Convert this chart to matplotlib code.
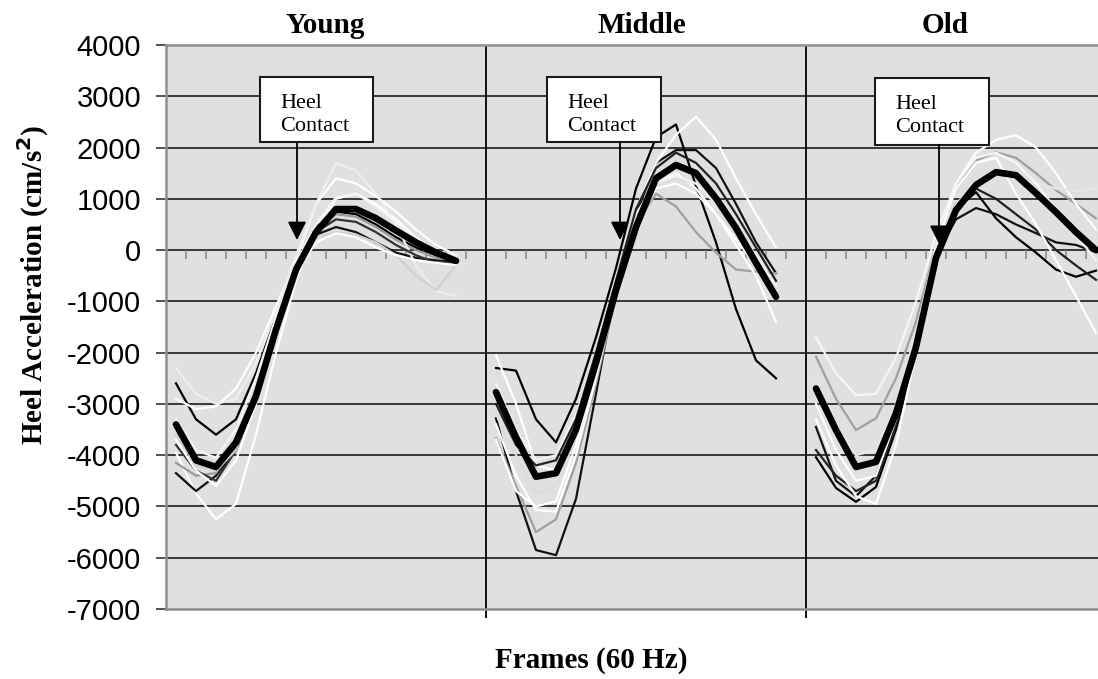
import numpy as np
import matplotlib.pyplot as plt
from matplotlib.patches import Rectangle

plt.rcParams['font.family'] = ['Liberation Sans', 'DejaVu Sans']
plt.rcParams['axes.unicode_minus'] = False

# heel acceleration (cm/s^2) per frame, 15 frames per age group
groups = ['Young', 'Middle', 'Old']
n_frames = 15
slot = 16  # category slots per group (last one left blank)

young_mean = [-3400, -4100, -4230, -3750, -2850, -1550, -380, 350, 800, 800, 620, 380, 150, -50, -210]
young_trials = [
    ('#000000', [-2600, -3300, -3600, -3300, -2400, -1300, -300, 450, 750, 700, 500, 250, 50, -100, -200]),
    ('#ffffff', [-2900, -3100, -3050, -2700, -2000, -1100, -200, 900, 1400, 1300, 1050, 750, 400, 100, -100]),
    ('#ffffff', [-3950, -4750, -5250, -4950, -3600, -2000, -600, 400, 1000, 1100, 900, 600, 250, -50, -200]),
    ('#111111', [-4350, -4700, -4400, -3900, -2900, -1600, -400, 300, 450, 350, 150, -50, -150, -200, -220]),
    ('#9a9a9a', [-4150, -4400, -4350, -3800, -2700, -1500, -350, 400, 700, 650, 450, 200, 0, -150, -200]),
    ('#eeeeee', [-2300, -2800, -3000, -2900, -2200, -1200, -100, 900, 1700, 1550, 1100, 500, -300, -800, -900]),
    ('#f4f4f4', [-3300, -3900, -4050, -3500, -2500, -1300, -250, 500, 1030, 1100, 850, 550, 200, -50, -150]),
    ('#333333', [-3800, -4300, -4500, -3900, -2900, -1600, -400, 350, 600, 550, 350, 100, -100, -250, -250]),
    ('#d0d0d0', [-3600, -4200, -4300, -3900, -2800, -1500, -350, 250, 350, 300, 150, -100, -500, -780, -300]),
    ('#ffffff', [-3700, -4300, -4600, -4100, -3000, -1700, -450, 150, 330, 250, 50, -100, -200, -250, -290]),
]

middle_mean = [-2770, -3650, -4420, -4350, -3500, -2200, -780, 450, 1400, 1660, 1500, 1010, 430, -250, -910]
middle_trials = [
    ('#000000', [-2300, -2350, -3300, -3750, -2900, -1700, -350, 1200, 2200, 2450, 1250, 150, -1150, -2150, -2500]),
    ('#111111', [-3280, -4700, -5850, -5950, -4850, -2800, -700, 700, 1700, 1950, 1950, 1600, 900, 150, -450]),
    ('#a0a0a0', [-3670, -4600, -5500, -5250, -4150, -2600, -900, 500, 1100, 850, 350, -50, -380, -420, -450]),
    ('#ffffff', [-2050, -3000, -4200, -4300, -3500, -2300, -700, 800, 1700, 2250, 2600, 2150, 1400, 700, 50]),
    ('#ffffff', [-3400, -4400, -5070, -5100, -4000, -2500, -800, 700, 1300, 1500, 1200, 700, 100, -500, -1400]),
    ('#dcdcdc', [-3200, -4000, -4740, -4600, -3700, -2300, -700, 600, 1300, 1400, 1300, 900, 300, -300, -900]),
    ('#f2f2f2', [-2600, -3500, -4100, -4000, -3200, -2000, -600, 700, 1300, 1450, 1300, 900, 400, -100, -700]),
    ('#222222', [-3000, -3800, -4200, -4100, -3300, -2000, -600, 800, 1600, 1900, 1700, 1300, 700, 50, -600]),
    ('#ffffff', [-3700, -4700, -5000, -4900, -3800, -2300, -800, 500, 1200, 1300, 1100, 700, 200, -300, -800]),
]

old_mean = [-2700, -3510, -4230, -4130, -3180, -1890, -150, 780, 1270, 1520, 1460, 1110, 740, 350, 0]
old_trials = [
    ('#000000', [-4040, -4640, -4910, -4620, -3500, -2000, -200, 800, 1130, 620, 250, -50, -380, -520, -400]),
    ('#111111', [-3450, -4500, -4800, -4400, -3300, -1900, -100, 600, 820, 700, 500, 330, 150, 100, -40]),
    ('#222222', [-3900, -4400, -4700, -4500, -3400, -1800, 0, 900, 1200, 1000, 700, 400, 0, -300, -580]),
    ('#a0a0a0', [-2080, -2900, -3510, -3280, -2500, -1400, 100, 1200, 1750, 1910, 1800, 1500, 1170, 900, 620]),
    ('#ffffff', [-3300, -4200, -4800, -4950, -3800, -2000, 0, 1300, 1900, 2150, 2240, 2000, 1500, 900, 400]),
    ('#ffffff', [-3000, -3900, -4500, -4400, -3300, -1700, 100, 1200, 1700, 1800, 1100, 500, -200, -900, -1620]),
    ('#e6e6e6', [-2600, -3400, -4000, -3900, -3000, -1600, 50, 900, 1300, 1500, 1400, 1300, 1200, 1150, 1200]),
    ('#f6f6f6', [-1700, -2400, -2830, -2800, -2100, -1000, 300, 1300, 1800, 1900, 1700, 1300, 800, 300, -200]),
]

means = [young_mean, middle_mean, old_mean]
trials = [young_trials, middle_trials, old_trials]

# box corners (x0, x1, y0, y1), arrow x and arrow tip per group
heel_boxes = [(4.2, 9.85, 2100, 3370), (18.55, 24.25, 2100, 3370), (34.95, 40.65, 2050, 3350)]
heel_arrows = [(6.05, 195), (22.2, 195), (38.15, 120)]

fig = plt.figure(figsize=(10.98, 6.79), dpi=100)
ax = fig.add_axes([166 / 1098, 70 / 679, 960 / 1098, 564 / 679])
ax.set_facecolor('#e0e0e0')
ax.set_xlim(-0.5, 3 * slot - 0.5)
ax.set_ylim(-7000, 4000)

for y in range(-6000, 4000, 1000):
    ax.axhline(y, color='#2a2a2a', lw=1.3, zorder=1)

# category ticks hanging off the zero line
ax.vlines(np.arange(0.5, 3 * slot - 1, 1), -170, 0, color='#888888', lw=1.1, zorder=1)

for k in (1, 2):
    ax.vlines(k * slot - 0.5, -7170, 4000, color='#111111', lw=1.4, zorder=2, clip_on=False)

for g in range(3):
    x = g * slot + np.arange(n_frames)
    for c, vals in trials[g]:
        ax.plot(x, vals, color=c, lw=1.6, zorder=3, solid_joinstyle='round')
    ax.plot(x, means[g], color='black', lw=4.8, zorder=4,
            solid_joinstyle='round', solid_capstyle='round')

    x0, x1, y0, y1 = heel_boxes[g]
    ax.add_patch(Rectangle((x0, y0), x1 - x0, y1 - y0, facecolor='white',
                           edgecolor='#1a1a1a', lw=1.5, zorder=6))
    ax.text(x0 + 1.0, y1 - 330, 'Heel\nContact', ha='left', va='top',
            fontsize=16, family='Liberation Serif', linespacing=1.3, zorder=7)
    ax_x, tip = heel_arrows[g]
    ax.annotate('', xy=(ax_x, tip), xytext=(ax_x, y0),
                arrowprops=dict(arrowstyle='-|>', color='black', lw=1.3,
                                mutation_scale=28, shrinkA=0, shrinkB=0),
                zorder=6)

for s in ('left', 'bottom', 'top'):
    ax.spines[s].set_color('#8f8f8f')
    ax.spines[s].set_linewidth(1.8)
ax.spines['right'].set_visible(False)

ax.set_xticks([])
ax.set_yticks(range(-7000, 4001, 1000))
ax.tick_params(axis='y', length=7, width=1.2, color='#333333', pad=11, labelsize=21)

title_x = [325, 642, 945]
for name, px in zip(groups, title_x):
    fig.text(px / 1098, 1 - 33 / 679, name, ha='center', va='baseline',
             fontsize=21, fontweight='bold', family='Liberation Serif')

fig.text(591 / 1098, 1 - 668 / 679, 'Frames (60 Hz)', ha='center', va='baseline',
         fontsize=21, fontweight='bold', family='Liberation Serif')
fig.text(33 / 1098, 1 - 285 / 679, r'Heel Acceleration (cm/s$^\mathbf{2}$)', ha='center',
         va='center', rotation=90, fontsize=21, fontweight='bold', family='Liberation Serif')

fig.savefig('out.png', dpi=100)
